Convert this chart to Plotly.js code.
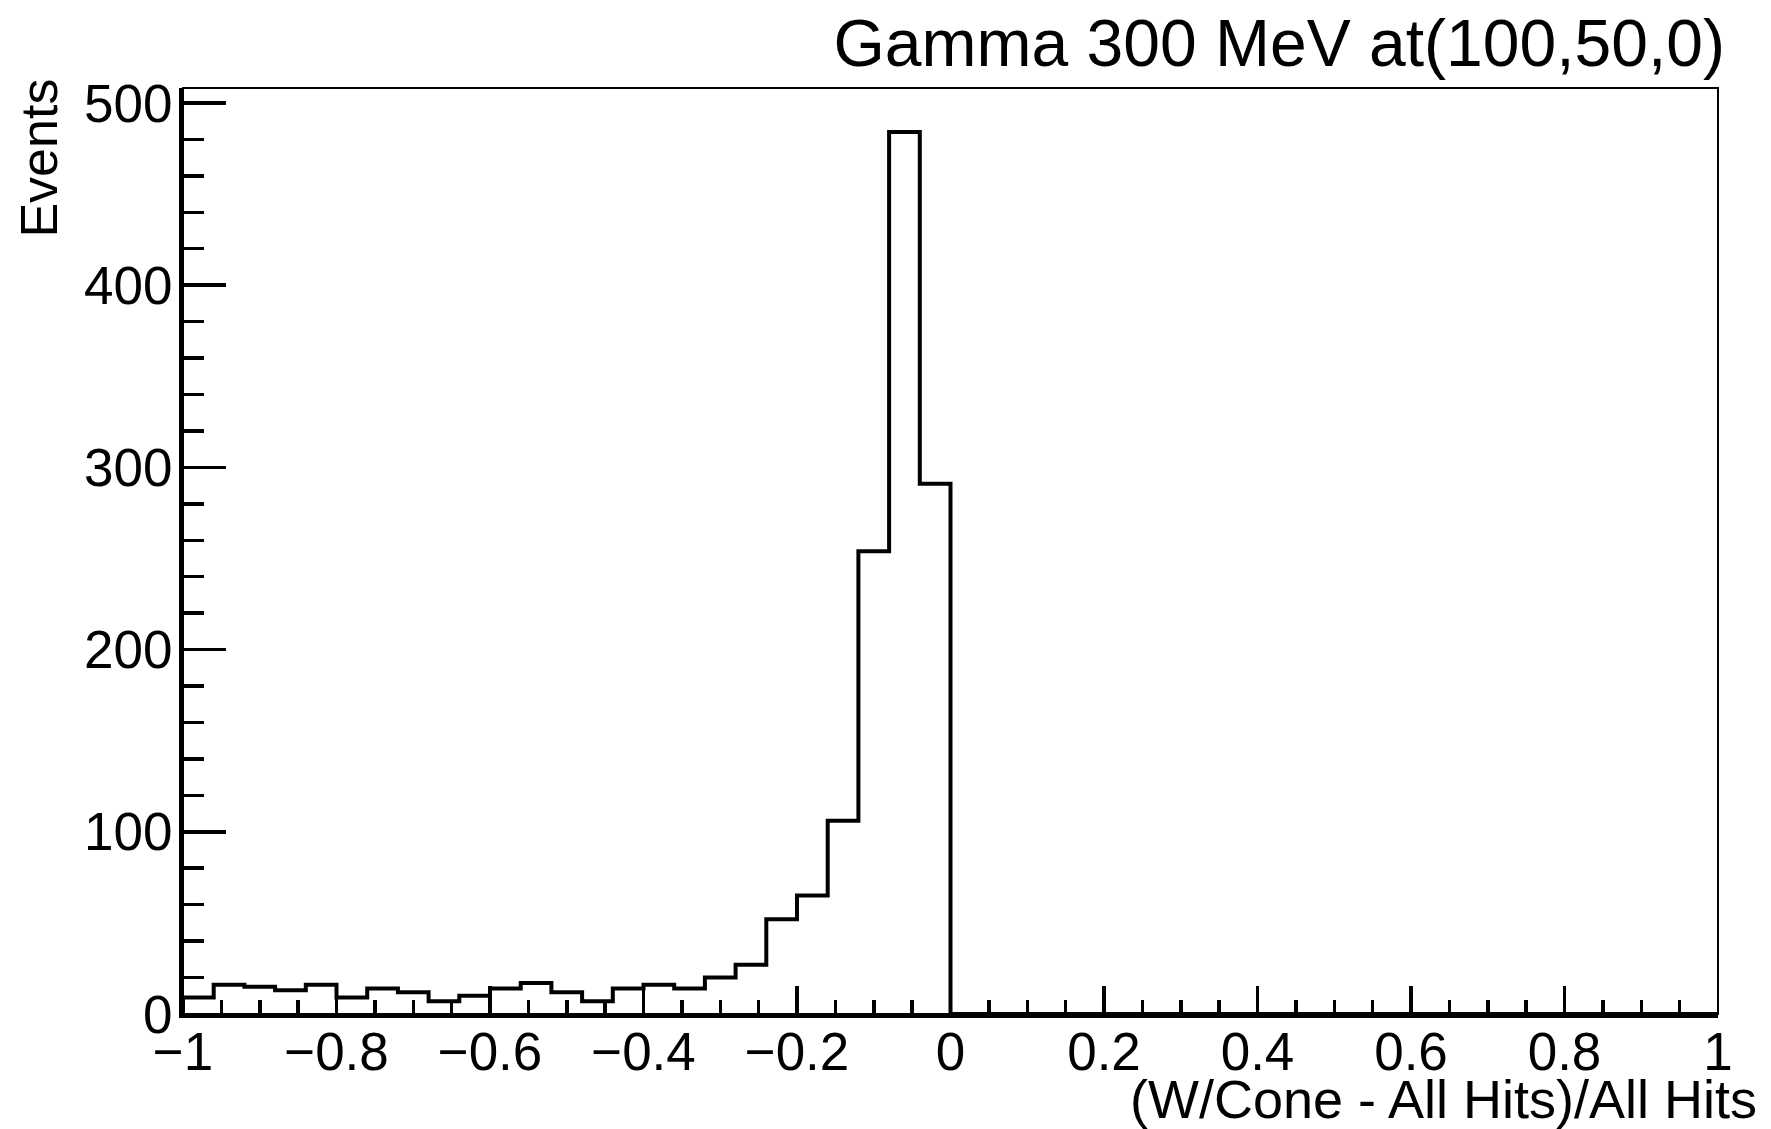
<!DOCTYPE html>
<html>
<head>
<meta charset="utf-8">
<script src="https://cdn.plot.ly/plotly-3.0.1.min.js"></script>
<style>html,body{margin:0;padding:0;background:#fff;}#chart{width:1771px;height:1129px;}</style>
</head>
<body>
<div id="chart"></div>
<script>
// Histogram binning: 50 bins from -1 to 1
const xMin = -1;
const binWidth = 0.04;
// Events per bin
const counts = [
  9, 16, 15, 13, 16, 9, 14, 12, 7, 10,
  14, 17, 12, 7, 14, 16, 14, 20, 27, 52,
  65, 106, 254, 484, 291, 0, 0, 0, 0, 0,
  0, 0, 0, 0, 0, 0, 0, 0, 0, 0,
  0, 0, 0, 0, 0, 0, 0, 0, 0, 0
];
const titleText = "Gamma 300 MeV at(100,50,0)";
const xTitle = "(W/Cone - All Hits)/All Hits";
const yTitle = "Events";
const xTickVals = [-1, -0.8, -0.6, -0.4, -0.2, 0, 0.2, 0.4, 0.6, 0.8, 1];
const xTickText = ["\u22121", "\u22120.8", "\u22120.6", "\u22120.4", "\u22120.2", "0", "0.2", "0.4", "0.6", "0.8", "1"];
const yTickVals = [0, 100, 200, 300, 400, 500];

// Build step outline from bin edges
const xs = [xMin];
const ys = [0];
for (let i = 0; i < counts.length; i++) {
  xs.push(xMin + i * binWidth);
  ys.push(counts[i]);
}
xs.push(xMin + counts.length * binWidth);
ys.push(counts[counts.length - 1]);

const yMax = 1.05 * Math.max(...counts);
const FONT = "Liberation Sans, Arial, Helvetica, sans-serif";

const trace = {
  type: "scatter",
  mode: "lines",
  x: xs,
  y: ys,
  line: {shape: "hv", color: "#000", width: 4},
  hoverinfo: "skip",
  cliponaxis: false
};

const layout = {
  width: 1771,
  height: 1129,
  paper_bgcolor: "#fff",
  plot_bgcolor: "#fff",
  margin: {l: 183, r: 53, t: 88, b: 115, pad: 0},
  showlegend: false,
  font: {family: FONT, color: "#000"},
  title: {
    text: titleText,
    font: {family: FONT, size: 66, color: "#000"},
    xref: "container", yref: "container",
    x: 0.974, xanchor: "right",
    y: 0.962, yanchor: "middle",
    pad: {t: 0, b: 0, l: 0, r: 0}
  },
  xaxis: {
    range: [-1, 1],
    showgrid: false, zeroline: false,
    showline: true, linecolor: "#000", linewidth: 4,
    ticks: "inside", ticklen: 28, tickwidth: 3.5, tickcolor: "#000",
    tickmode: "array", tickvals: xTickVals, ticktext: xTickText,
    tickfont: {family: FONT, size: 53, color: "#000"},
    ticklabelstandoff: -12,
    minor: {dtick: 0.05, tick0: 0, ticks: "inside", ticklen: 14, tickwidth: 3.5, tickcolor: "#000", showgrid: false}
  },
  yaxis: {
    range: [0, yMax],
    showgrid: false, zeroline: false,
    showline: true, linecolor: "#000", linewidth: 4,
    ticks: "inside", ticklen: 43, tickwidth: 3.5, tickcolor: "#000",
    tickmode: "array", tickvals: yTickVals,
    tickfont: {family: FONT, size: 53, color: "#000"},
    ticklabelstandoff: -4,
    minor: {dtick: 20, tick0: 0, ticks: "inside", ticklen: 21, tickwidth: 3.5, tickcolor: "#000", showgrid: false}
  },
  shapes: [
    {type: "rect", xref: "paper", yref: "paper", x0: 0, x1: 1, y0: 0, y1: 1,
     line: {color: "#000", width: 2}, fillcolor: "rgba(0,0,0,0)", layer: "above"}
  ],
  annotations: [
    {text: xTitle, xref: "paper", yref: "paper", x: 1.0267, y: -0.0918,
     xanchor: "right", yanchor: "middle", showarrow: false,
     font: {family: FONT, size: 54, color: "#000"}},
    {text: yTitle, xref: "paper", yref: "paper", x: -0.0941, y: 0.9244,
     xanchor: "center", yanchor: "middle", textangle: -90, showarrow: false,
     font: {family: FONT, size: 52, color: "#000"}}
  ]
};

Plotly.newPlot("chart", [trace], layout, {staticPlot: true, displayModeBar: false});
</script>
</body>
</html>
